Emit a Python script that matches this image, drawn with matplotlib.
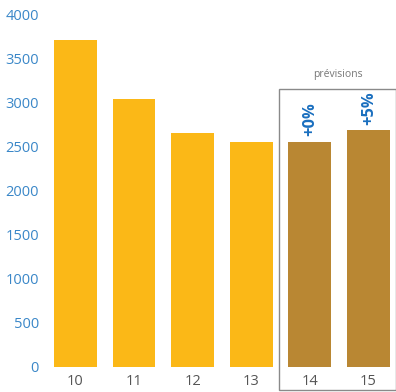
import matplotlib
matplotlib.use("Agg")
import matplotlib.pyplot as plt
from matplotlib.patches import Rectangle

# Valeurs annuelles (les deux dernières sont des prévisions)
annees = ["10", "11", "12", "13", "14", "15"]
valeurs = [3720, 3045, 2660, 2560, 2560, 2690]
prevision = [False, False, False, False, True, True]
variations = {"14": "+0%", "15": "+5%"}

JAUNE = "#FBB817"
BRUN = "#B98733"
BLEU = "#3A87C8"

plt.rcParams["font.family"] = ["Open Sans", "DejaVu Sans"]

fig = plt.figure(figsize=(3.96, 3.92), dpi=100)
ax = fig.add_axes([46 / 396, 25 / 392, 1 - 46 / 396, 352 / 392])

x = list(range(len(annees)))
couleurs = [BRUN if p else JAUNE for p in prevision]
ax.bar(x, valeurs, width=0.73, color=couleurs)

for i, a in enumerate(annees):
    if a in variations:
        ax.annotate(variations[a], (i, valeurs[i]), xytext=(0.5, 4), textcoords="offset points",
                    rotation=90, ha="center", va="bottom", fontsize=11.8,
                    fontweight="bold", color="#1A6FBF")

ax.set_xlim(-0.5, 5.47)
ax.set_ylim(0, 4000)
ax.set_yticks(range(0, 4001, 500))
ax.set_xticks(x)
ax.set_xticklabels(annees)
ax.tick_params(axis="y", length=0, labelsize=10.5, labelcolor=BLEU, pad=5)
ax.tick_params(axis="x", length=0, labelsize=10.5, labelcolor="#555555", pad=5)
for s in ax.spines.values():
    s.set_visible(False)

# Cadre des prévisions
fig.patches.append(Rectangle((278.5 / 396, 2 / 392), (395.5 - 278.5) / 396, (303 - 2) / 392,
                             transform=fig.transFigure, fill=False,
                             edgecolor="#8A8A8A", linewidth=1.0))
fig.text(338 / 396, (392 - 74) / 392, "prévisions", ha="center", va="center",
         fontsize=7.5, color="#777777")

fig.savefig("out.png", dpi=100)
